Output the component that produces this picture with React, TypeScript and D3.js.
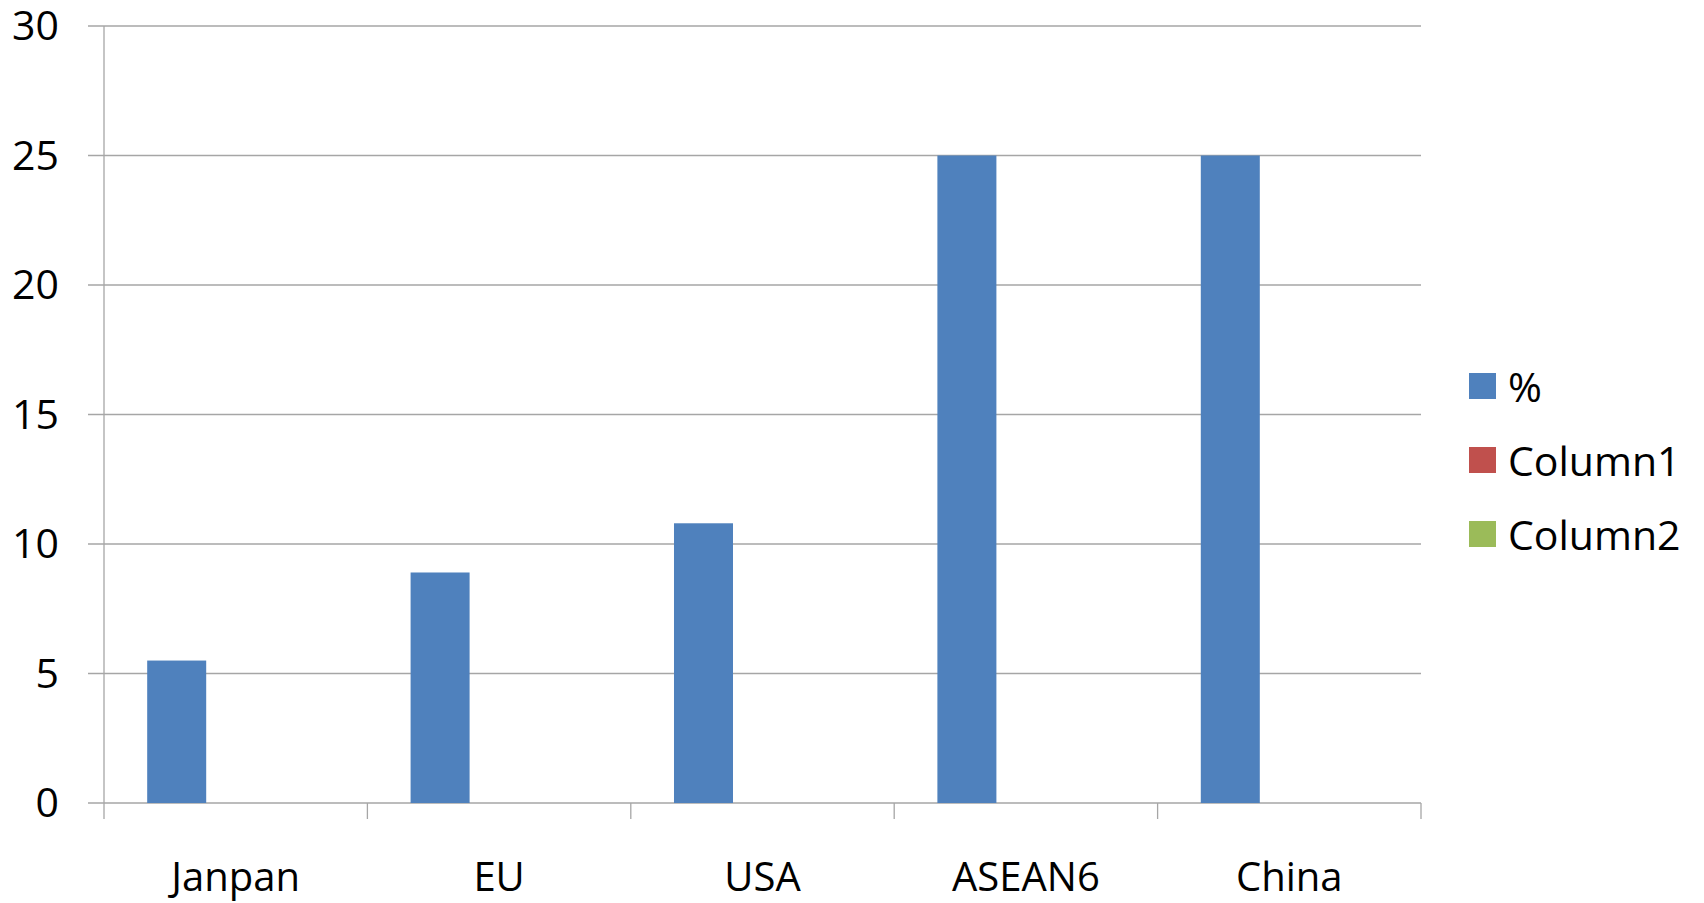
import React from "react";
import * as d3 from "d3";

const categories = ["Janpan", "EU", "USA", "ASEAN6", "China"];
const seriesNames = ["%", "Column1", "Column2"];
const percentValues = [5.5, 8.9, 10.8, 25, 25];
const column1Values: (number | null)[] = [null, null, null, null, null];
const column2Values: (number | null)[] = [null, null, null, null, null];
const yTicks = [0, 5, 10, 15, 20, 25, 30];
const seriesColors = ["#4F81BD", "#C0504D", "#9BBB59"];

const W = 1704;
const H = 903;
const left = 104;
const right = 1421;
const top = 26;
const bottom = 803;
const FONT = "'Open Sans', 'Liberation Sans', sans-serif";

export default function App() {
  const y = d3.scaleLinear().domain([0, 30]).range([bottom, top]);
  const x = d3.scaleBand<string>().domain(categories).range([left, right]).paddingInner(0).paddingOuter(0);
  const xs = d3.scaleBand<string>().domain(seriesNames).range([0, x.bandwidth()]).paddingInner(0).paddingOuter(0.732);
  const allSeries = [percentValues, column1Values, column2Values];
  const grid = "#A6A6A6";

  const catTicks = d3.range(categories.length + 1).map((i) => left + i * x.step());

  return (
    <svg width={W} height={H} style={{ position: "absolute", left: 0, top: 0, background: "#fff" }}>
      {yTicks.map((t) => (
        <g key={t}>
          <line x1={88} x2={right} y1={y(t)} y2={y(t)} stroke={grid} strokeWidth={1.3} />
          <text x={59} y={y(t) + 14} textAnchor="end" fontFamily={FONT} fontSize={41} fill="#000">
            {t}
          </text>
        </g>
      ))}
      <line x1={left} x2={left} y1={top} y2={819} stroke={grid} strokeWidth={1.3} />
      {catTicks.slice(1).map((cx, i) => (
        <line key={i} x1={cx} x2={cx} y1={bottom} y2={819} stroke={grid} strokeWidth={1.3} />
      ))}
      {allSeries.map((vals, si) =>
        vals.map((v, ci) =>
          v == null ? null : (
            <rect
              key={`${si}-${ci}`}
              x={(x(categories[ci]) as number) + (xs(seriesNames[si]) as number)}
              width={xs.bandwidth()}
              y={y(v)}
              height={y(0) - y(v)}
              fill={seriesColors[si]}
            />
          )
        )
      )}
      {categories.map((c) => (
        <text key={c} x={(x(c) as number) + x.bandwidth() / 2} y={891} textAnchor="middle" fontFamily={FONT} fontSize={40} fill="#000">
          {c}
        </text>
      ))}
      {seriesNames.map((s, i) => (
        <g key={s} transform={`translate(1469, ${373 + i * 74})`}>
          <rect width={27} height={26} fill={seriesColors[i]} />
          <text x={39} y={13} dominantBaseline="central" fontFamily={FONT} fontSize={41} fill="#000">
            {s}
          </text>
        </g>
      ))}
    </svg>
  );
}
